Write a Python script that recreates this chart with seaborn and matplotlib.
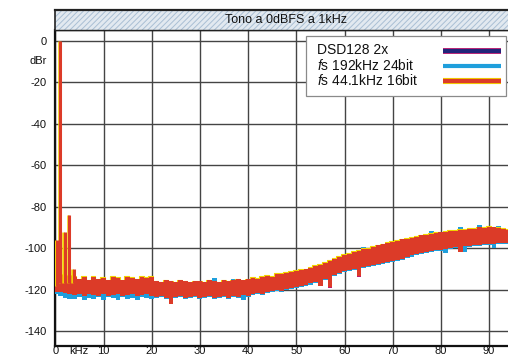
import numpy as np
import pandas as pd
import seaborn as sns
import matplotlib
matplotlib.use("Agg")
import matplotlib.pyplot as plt
import matplotlib.transforms as mtransforms
import matplotlib.patheffects as pe
from matplotlib.patches import Rectangle
from matplotlib.lines import Line2D

# ---------------- data ----------------
title = "Tono a 0dBFS a 1kHz"
series_labels = ["DSD128 2x", "$f$s 192kHz 24bit", "$f$s 44.1kHz 16bit"]
x_ticks = [0, 10, 20, 30, 40, 50, 60, 70, 80, 90]
x_tick_labels = ["0", "10", "20", "30", "40", "50", "60", "70", "80", "90"]
y_ticks = [0, -20, -40, -60, -80, -100, -120, -140]
y_tick_labels = ["0", "-20", "-40", "-60", "-80", "-100", "-120", "-140"]

freq_khz = list(range(95))

red_top = [-110, -113, -114.5, -113.5, -114, -115, -114, -115.5, -114, -115,
           -114.5, -115.5, -114, -114.5, -115.5, -114, -114.5, -115, -114, -114.5,
           -114, -116, -116.5, -115.5, -116, -116.5, -115.5, -116, -116.5, -116,
           -116, -116.5, -115.5, -116, -116.5, -115.5, -116, -115.5, -115, -115.5,
           -115, -114.5, -114.8, -114, -113.5, -113.8, -112.5, -112.2, -112, -111.5,
           -111, -110.6, -110.2, -109.3, -108.7, -108, -107.2, -106, -105.3, -104,
           -103.2, -102.6, -101.8, -101.2, -100.5, -100.2, -99.4, -98.6, -98.2, -97.4,
           -97, -96.6, -95.8, -95.6, -95, -94.6, -93.8, -93.6, -93, -92.6,
           -92.4, -92.1, -91.5, -91.7, -91, -91.2, -90.5, -90.7, -90, -90.2,
           -89.6, -90, -90.4, -90.6, -91]
red_bottom = [-121, -121, -121.5, -122, -122.5, -122, -123, -122, -122.5, -123,
              -122, -123, -122.5, -122, -123, -122.5, -122, -123, -122.5, -122,
              -123, -123.5, -123, -124, -127, -123.5, -123, -124, -123.5, -123,
              -124, -123.5, -123, -124, -123.5, -123, -124, -123, -123.5, -122.5,
              -123, -122, -121.5, -122, -121, -120.5, -120, -120.5, -119.5, -119,
              -118.5, -118, -117.5, -117, -116.5, -118.2, -115, -118.5, -113, -112,
              -111, -110.5, -110, -113.5, -109, -108.5, -108, -107.5, -107, -106.5,
              -106, -105.5, -105, -104, -103.5, -103, -102.5, -102, -101.5, -101,
              -101, -100.5, -100, -99.5, -102, -99, -99, -98.5, -98.5, -98,
              -98, -98, -97.5, -97.5, -97.5]

blue_top = [-111, -113.5, -115, -114, -114.5, -115.5, -114.5, -116, -114.5, -115.5,
            -115, -116, -114.5, -115, -116, -114.5, -115, -115.5, -114.5, -115,
            -114.5, -116.5, -117, -116, -116.5, -117, -116, -116.5, -117, -116.5,
            -116.5, -117, -116, -114.5, -117, -116, -116.5, -114.8, -115.5, -116,
            -115.5, -115, -115, -114.5, -113, -114, -113, -112.5, -111.5, -112,
            -111.5, -111, -110.5, -110, -109, -108.5, -107.5, -106.5, -105.5, -104.5,
            -103.5, -103, -102.5, -101.5, -99.5, -100.5, -100, -99, -98.5, -98,
            -97.5, -97, -96.5, -95, -95.5, -95, -94.5, -94, -91.5, -93,
            -93, -92.5, -92, -92, -89.8, -91.5, -91, -91, -88.8, -90.5,
            -90, -90.5, -89.2, -91, -91.5]
blue_bottom = [-122, -123, -124, -124.5, -124.5, -123.5, -125, -124, -124.5, -123.5,
               -125, -123.5, -124, -125, -123.5, -124.5, -124, -125, -123.5, -124,
               -124.5, -124, -123.5, -124.5, -125.5, -124, -123.5, -124.5, -124, -123.5,
               -124.5, -124, -123.5, -124.5, -124, -123.5, -124.5, -123.5, -124, -125,
               -123.5, -122.5, -122, -122.5, -121.5, -121, -120.5, -121, -120, -119.5,
               -119, -118.5, -118, -117.5, -117, -116.5, -115.5, -114.5, -113.5, -112.5,
               -111.5, -111, -110.5, -110, -109.5, -109, -108.5, -108, -107.5, -107,
               -106.5, -106, -105.5, -104.5, -104, -103.5, -103, -102.5, -102, -101.5,
               -101.5, -102.5, -100.5, -100, -100, -102, -99.5, -99, -99, -98.5,
               -98.5, -100, -98, -98, -98]

dsd_top = [-110.5, -113.5, -115, -114, -114.5, -115.5, -114.5, -116, -114.5, -115.5,
           -115, -116, -114.5, -115, -116, -114.5, -115, -115.5, -114.5, -115,
           -114.5, -116.5, -117, -116, -116.5, -117, -116, -116.5, -117, -116.5,
           -116.5, -117, -116, -116.5, -117, -116, -116.5, -116, -115.5, -116,
           -115.5, -115, -115.2, -114.5, -114, -114.2, -113, -112.6, -112.4, -112,
           -111.4, -111, -110.6, -109.7, -109.1, -108.4, -107.6, -106.4, -105.7, -104.4,
           -103.6, -103, -102.2, -101.6, -100.9, -100.6, -99.8, -99, -98.6, -97.8,
           -97.4, -97, -96.2, -96, -95.4, -95, -94.2, -94, -93.4, -93,
           -92.8, -92.5, -91.9, -92.1, -91.4, -91.6, -90.9, -91.1, -90.4, -90.6,
           -90, -90.4, -90.8, -91, -91.4]
dsd_bottom = [-121.5, -121.5, -122, -122.5, -123, -122.5, -123.5, -122.5, -123, -123.5,
              -122.5, -123.5, -123, -122.5, -123.5, -123, -122.5, -123.5, -123, -122.5,
              -123.5, -124, -123.5, -124.5, -125, -124, -123.5, -124.5, -124, -123.5,
              -124.5, -124, -123.5, -124.5, -124, -123.5, -124.5, -123.5, -124, -123,
              -123.5, -122.5, -122, -122.5, -121.5, -121, -120.5, -121, -120, -119.5,
              -119, -118.5, -118, -117.5, -117, -116.5, -115.5, -119, -113.5, -112.5,
              -111.5, -111, -110.5, -113.8, -109.5, -109, -108.5, -108, -107.5, -107,
              -106.5, -106, -105.5, -104.5, -104, -103.5, -103, -102.5, -102, -101.5,
              -101.5, -101, -100.5, -100, -100, -99.5, -99.5, -99, -99, -98.5,
              -98.5, -98.5, -98, -98, -98]

harm_khz = [0.3, 1, 2, 2.9, 3.9]
harm_db = [-96, 0, -92, -84, -110]
harm_floor = [-118, -117, -117, -117, -117]

df = pd.DataFrame({"kHz": freq_khz,
                   "red_top": red_top, "red_bottom": red_bottom,
                   "blue_top": blue_top, "blue_bottom": blue_bottom,
                   "dsd_top": dsd_top, "dsd_bottom": dsd_bottom})

# ---------------- style ----------------
sns.set_theme(style="white")
plt.rcParams["font.family"] = ["Liberation Sans", "DejaVu Sans"]
plt.rcParams["mathtext.fontset"] = "custom"
plt.rcParams["mathtext.it"] = "Liberation Sans:italic"
plt.rcParams["mathtext.rm"] = "Liberation Sans"
plt.rcParams["hatch.linewidth"] = 0.7

RED = "#dc3b28"
YELLOW = "#f2d200"
BLUE = "#1f9fdc"
NAVY = "#22257a"
MAGENTA = "#c2186e"
GRID = "#444444"

W, H = 508, 360
fig = plt.figure(figsize=(W / 100, H / 100), dpi=100)
fig.patch.set_facecolor("white")

x0px, x1px = 55.3, 508
ytop_px, ybot_px = 30, 345.7
ax = fig.add_axes([x0px / W, 1 - ybot_px / H, (x1px - x0px) / W, (ybot_px - ytop_px) / H])
ax.set_xlim(0, (x1px - x0px) / 4.82)
ax.set_ylim(-147, 5.2)

# gridlines
ax.set_xticks(x_ticks, x_tick_labels)
ax.set_yticks(y_ticks, y_tick_labels)
ax.grid(True, which="major", color=GRID, linewidth=1.0)
ax.set_axisbelow(True)

# minor "ticks" used for unit labels
ax.set_xticks([4.9], ["kHz"], minor=True)
ax.set_yticks([-9.3], ["dBr"], minor=True)
ax.tick_params(axis="both", which="both", length=0, labelsize=8, colors="#111111")
ax.tick_params(axis="x", which="both", pad=0.5)
ax.tick_params(axis="y", which="both", pad=6)

for s in ["left", "bottom"]:
    ax.spines[s].set_color("#111111")
    ax.spines[s].set_linewidth(1.6)
ax.spines["top"].set_color("#222222")
ax.spines["top"].set_linewidth(1.0)
ax.spines["right"].set_visible(False)

# ---------------- bands ----------------
up_left = mtransforms.offset_copy(ax.transData, fig=fig, x=-0.8, y=0.8, units="dots")

# DSD128 (bottom layer)
ax.fill_between(df["kHz"], df["dsd_bottom"], df["dsd_top"], step="mid",
                color=MAGENTA, linewidth=0, zorder=2)
# 192 kHz 24 bit
ax.fill_between(df["kHz"], df["blue_bottom"], df["blue_top"], step="mid",
                color=BLUE, linewidth=0, zorder=3)
# 44.1 kHz 16 bit : yellow fringe then red
sns.lineplot(data=df, x="kHz", y="red_top", ax=ax, color=YELLOW, linewidth=0.8,
             drawstyle="steps-mid", zorder=4)
ax.lines[-1].set_transform(up_left)
ax.fill_between(df["kHz"], df["red_bottom"], df["red_top"], step="mid",
                color=RED, linewidth=0, zorder=5)

# harmonic spikes
ax.vlines(harm_khz, harm_floor, harm_db, colors=YELLOW, linewidth=1.8,
          transform=mtransforms.offset_copy(ax.transData, fig=fig, x=-1.6, y=0, units="dots"),
          zorder=5)
ax.vlines(harm_khz, harm_floor, harm_db, colors=RED, linewidth=2.2, zorder=6)

ax.set_xlabel("")
ax.set_ylabel("")
ax.set_facecolor("white")

# ---------------- title band ----------------
tax = fig.add_axes([x0px / W, 1 - 30 / H, (x1px - x0px) / W, 20 / H])
tax.set_xlim(0, 1)
tax.set_ylim(0, 1)
tax.add_patch(Rectangle((0, 0), 1, 1, facecolor="#e2e9f0", edgecolor="#a9bfd4",
                        hatch="//////", linewidth=0, zorder=0))
tax.set_xticks([])
tax.set_yticks([])
for s in ["left", "top", "bottom"]:
    tax.spines[s].set_color("#222222")
tax.spines["top"].set_linewidth(1.6)
tax.spines["left"].set_linewidth(1.2)
tax.spines["bottom"].set_linewidth(1.0)
tax.spines["right"].set_visible(False)
fig.text(286 / W, 1 - 20 / H, title, ha="center", va="center", fontsize=9, color="#111111")

# ---------------- legend (drawn by hand) ----------------
lx0, lx1, ly0, ly1 = 306, 506, 36, 95.7
fig.patches.append(Rectangle((lx0 / W, 1 - ly1 / H), (lx1 - lx0) / W, (ly1 - ly0) / H,
                             transform=fig.transFigure, facecolor="white",
                             edgecolor="#8a8a8a", linewidth=0.9, zorder=10))
rows_y = [50.5, 65.5, 80.5]
for lab, ypx in zip(series_labels, rows_y):
    fig.text(317 / W, 1 - ypx / H, lab, ha="left", va="center", fontsize=10,
             color="#111111", zorder=11)

line_styles = [
    dict(color=NAVY, lw=3.0, fx=[pe.Stroke(linewidth=4.2, foreground=MAGENTA), pe.Normal()]),
    dict(color=BLUE, lw=3.0, fx=None),
    dict(color=RED, lw=3.0, fx=[pe.Stroke(linewidth=4.4, foreground=YELLOW), pe.Normal()]),
]
for st, ypx in zip(line_styles, rows_y):
    ln = Line2D([443 / W, 501 / W], [1 - ypx / H, 1 - ypx / H], transform=fig.transFigure,
                color=st["color"], linewidth=st["lw"], solid_capstyle="butt", zorder=12)
    if st["fx"]:
        ln.set_path_effects(st["fx"])
    fig.lines.append(ln)

fig.savefig("out.png", dpi=100)
